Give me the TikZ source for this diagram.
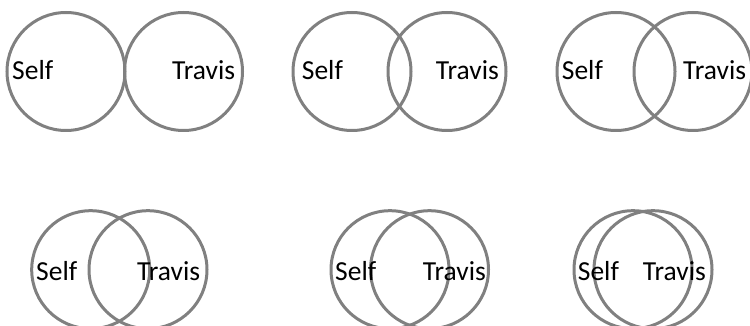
\documentclass[tikz,border=0pt]{standalone}
\usepackage{fontspec}
\setmainfont{Carlito}
\begin{document}
\begin{tikzpicture}[x=1pt,y=-1pt,
  ring/.style={circle,draw=ringgray,line width=3pt,minimum size=118pt,inner sep=0pt,outer sep=0pt},
  lbl/.style={anchor=base west,inner sep=0pt,font=\fontsize{27.5}{30}\selectfont,text=black}]
\definecolor{ringgray}{RGB}{128,128,128}
\useasboundingbox (0,0) rectangle (750,326);
% row 1
\node[ring] (c1l) at (66,71.5) {};
\node[ring] (c1r) at (183.5,71.5) {};
\node[lbl] (t1s) at (12,80) {Self};
\node[lbl] (t1t) at (172,80) {Travis};
\node[ring] (c2l) at (352,71.5) {};
\node[ring] (c2r) at (447,71.5) {};
\node[lbl] (t2s) at (301.7,80) {Self};
\node[lbl] (t2t) at (435.7,80) {Travis};
\node[ring] (c3l) at (616,71.5) {};
\node[ring] (c3r) at (693,71.5) {};
\node[lbl] (t3s) at (561.7,80) {Self};
\node[lbl] (t3t) at (683,80) {Travis};
% row 2
\node[ring] (c4l) at (90.7,269.7) {};
\node[ring] (c4r) at (148,269.7) {};
\node[lbl] (t4s) at (36,280) {Self};
\node[lbl] (t4t) at (137,280) {Travis};
\node[ring] (c5l) at (390,269.7) {};
\node[ring] (c5r) at (429.5,269.7) {};
\node[lbl] (t5s) at (335,280) {Self};
\node[lbl] (t5t) at (422.7,280) {Travis};
\node[ring] (c6l) at (633,269.7) {};
\node[ring] (c6r) at (653,269.7) {};
\node[lbl] (t6s) at (577.7,280) {Self};
\node[lbl] (t6t) at (642.7,280) {Travis};
\end{tikzpicture}
\end{document}
